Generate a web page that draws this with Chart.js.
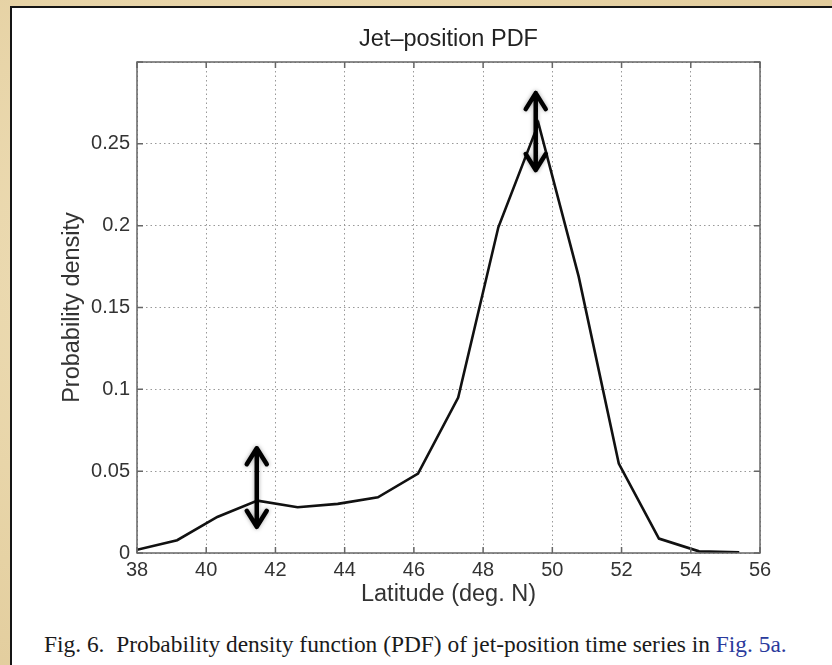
<!DOCTYPE html>
<html>
<head>
<meta charset="utf-8">
<script src="https://cdn.jsdelivr.net/npm/chart.js@4"></script>
<style>
  html, body { margin: 0; padding: 0; }
  body { width: 832px; height: 665px; overflow: hidden; position: relative;
         background: radial-gradient(ellipse at 30% 40%, #efdfb9 0%, #e6d2a4 60%, #dfc897 100%); }
  #panel { position: absolute; left: 10px; top: 6px; right: 0; bottom: 0; background: #fff;
           border-left: 2px solid #151515; border-top: 2px solid #151515; }
  #wrap { position: absolute; left: 0; top: 0; width: 832px; height: 620px; }
  #caption { position: absolute; left: 44px; top: 633px; font-family: "Liberation Serif", serif;
             font-size: 23.4px; line-height: 1; color: #1a1a1a; white-space: nowrap; }
  #caption span { color: #2a3a9c; }
</style>
</head>
<body>
<div id="panel"></div>
<div id="wrap"><canvas id="pdf"></canvas></div>
<div id="caption">Fig. 6.&nbsp; Probability density function (PDF) of jet-position time series in <span>Fig. 5a.</span></div>
<script>
// values
const latitude = [38.0, 39.16, 40.32, 41.48, 42.64, 43.8, 44.96, 46.12, 47.28, 48.44, 49.6, 50.76, 51.92, 53.08, 54.24, 55.4];
const density = [0.002, 0.0078, 0.022, 0.032, 0.028, 0.030, 0.034, 0.0485, 0.095, 0.199, 0.2625, 0.169, 0.0546, 0.0088, 0.001, 0.0005];

// double arrows drawn on top (latitude, lower end, upper end)
const arrowLat = [41.46, 49.52];
const arrowLow = [0.016, 0.234];
const arrowHigh = [0.064, 0.281];

const axisFont = "'Liberation Sans', Arial, sans-serif";

// box round the plot with inward tick marks, like the matlab axes
const boxPlugin = {
    id: "box",
    afterDatasetsDraw(chart) {
        const { ctx, chartArea: a, scales } = chart;
        ctx.save();
        ctx.strokeStyle = "#666";
        ctx.lineWidth = 1.5;
        ctx.strokeRect(a.left, a.top, a.right - a.left, a.bottom - a.top);
        ctx.beginPath();
        scales.x.ticks.forEach(t => {
            const px = scales.x.getPixelForValue(t.value);
            ctx.moveTo(px, a.bottom); ctx.lineTo(px, a.bottom - 6);
            ctx.moveTo(px, a.top); ctx.lineTo(px, a.top + 6);
        });
        scales.y.ticks.forEach(t => {
            const py = scales.y.getPixelForValue(t.value);
            ctx.moveTo(a.left, py); ctx.lineTo(a.left + 6, py);
            ctx.moveTo(a.right, py); ctx.lineTo(a.right - 6, py);
        });
        ctx.stroke();
        ctx.restore();
    }
};

const arrowPlugin = {
    id: "arrows",
    afterDatasetsDraw(chart) {
        const { ctx, scales } = chart;
        ctx.save();
        ctx.strokeStyle = "#000";
        ctx.lineWidth = 4.5;
        ctx.lineCap = "round";
        ctx.lineJoin = "round";
        ctx.shadowColor = "rgba(0,0,0,0.35)";
        ctx.shadowBlur = 4;
        arrowLat.forEach((lat, i) => {
            const x = scales.x.getPixelForValue(lat);
            const y0 = scales.y.getPixelForValue(arrowLow[i]);
            const y1 = scales.y.getPixelForValue(arrowHigh[i]);
            ctx.beginPath();
            ctx.moveTo(x, y0); ctx.lineTo(x, y1);
            ctx.moveTo(x - 10, y1 + 16); ctx.lineTo(x, y1); ctx.lineTo(x + 10, y1 + 16);
            ctx.moveTo(x - 10, y0 - 16); ctx.lineTo(x, y0); ctx.lineTo(x + 10, y0 - 16);
            ctx.stroke();
        });
        ctx.restore();
    }
};

const ctx = document.getElementById("pdf").getContext("2d");

new Chart(ctx, {
    type: "line",
    data: {
        datasets: [
            {
                label: "PDF",
                data: latitude.map((x, i) => ({ x: x, y: density[i] })),
                borderColor: "#111",
                borderWidth: 2.6,
                pointRadius: 0,
                tension: 0,
                fill: false,
            },
        ],
    },
    options: {
        responsive: true,
        maintainAspectRatio: false,
        animation: false,
        layout: { padding: { left: 50, right: 72, top: 0, bottom: 11 } },
        plugins: {
            legend: { display: false },
            tooltip: { enabled: false },
            title: {
                display: true,
                text: "Jet\u2013position PDF",
                fullSize: false,
                color: "#222",
                font: { family: axisFont, size: 23.5, weight: "normal" },
                padding: { top: 25.9, bottom: 7.9 },
            },
        },
        scales: {
            x: {
                type: "linear",
                min: 38,
                max: 56,
                afterFit(s) { s.height = 56; },
                ticks: {
                    stepSize: 2,
                    padding: 5,
                    color: "#333",
                    font: { family: axisFont, size: 20 },
                },
                grid: { color: "#999", lineWidth: 1, drawTicks: false },
                border: { display: false, dash: [1.5, 3] },
                title: {
                    display: true,
                    text: "Latitude (deg. N)",
                    color: "#333",
                    font: { family: axisFont, size: 23.5 },
                    padding: { top: 0, bottom: 0 },
                },
            },
            y: {
                min: 0,
                max: 0.3,
                afterFit(s) { s.width = 87; },
                ticks: {
                    stepSize: 0.05,
                    padding: 7,
                    color: "#333",
                    font: { family: axisFont, size: 20 },
                    callback: v => (Math.abs(v - 0.3) < 1e-9 ? "" : String(+v.toFixed(2))),
                },
                grid: { color: "#999", lineWidth: 1, drawTicks: false },
                border: { display: false, dash: [1.5, 3] },
                title: {
                    display: true,
                    text: "Probability density",
                    color: "#333",
                    font: { family: axisFont, size: 23.5 },
                    padding: { top: 8, bottom: 0 },
                },
            },
        },
    },
    plugins: [boxPlugin, arrowPlugin],
});
</script>
</body>
</html>
